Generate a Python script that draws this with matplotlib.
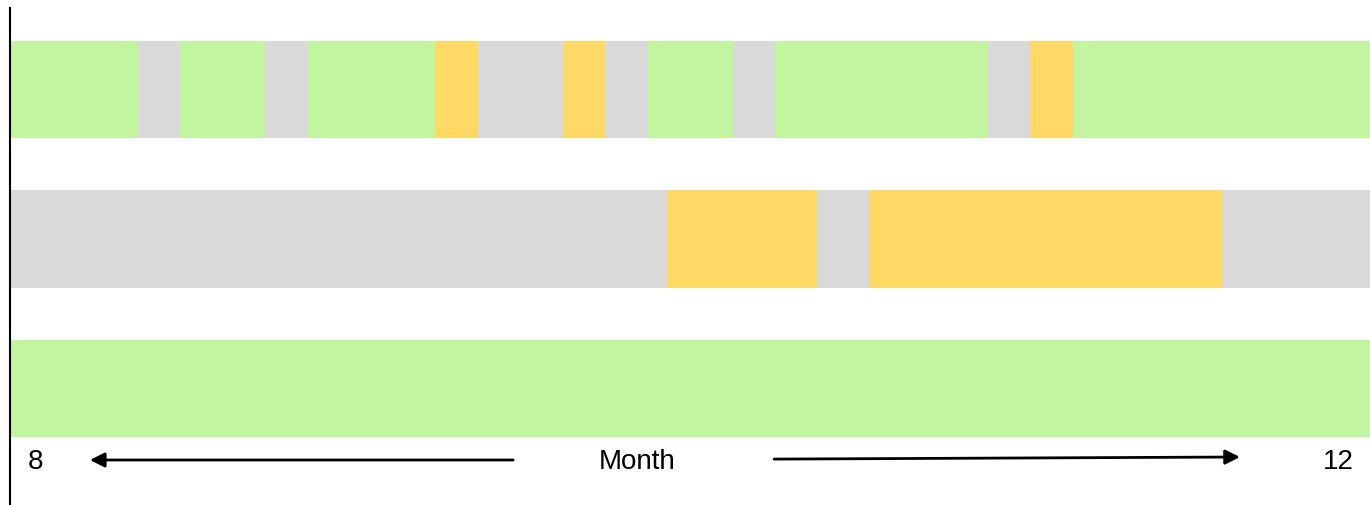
import matplotlib
matplotlib.use("Agg")
import matplotlib.pyplot as plt
import numpy as np

plt.rcParams['font.family'] = ['Liberation Sans', 'DejaVu Sans']

# Data: segment durations (units along the month axis) and status per segment
row1_durations = [3, 1, 2, 1, 3, 1, 2, 1, 1, 2, 1, 5, 1, 1, 7]
row1_status = ['ok', 'idle', 'ok', 'idle', 'ok', 'warn', 'idle', 'warn',
               'idle', 'ok', 'idle', 'ok', 'idle', 'warn', 'ok']
row2_durations = [15.47, 3.52, 1.21, 8.32, 3.48]
row2_status = ['idle', 'warn', 'idle', 'warn', 'idle']
row3_durations = [32]
row3_status = ['ok']

rows_durations = [row1_durations, row2_durations, row3_durations]
rows_status = [row1_status, row2_status, row3_status]

status_colors = {'ok': '#C3F5A0', 'idle': '#D9D9D9', 'warn': '#FFD966'}

month_start_label = '8'
month_end_label = '12'
axis_title = 'Month'

W, H = 1370, 505
fig = plt.figure(figsize=(W / 100, H / 100), dpi=100)
ax = fig.add_axes([10 / W, 0, 1360 / W, 497 / H])

for i, (durs, stats) in enumerate(zip(rows_durations, rows_status)):
    lefts = np.concatenate([[0], np.cumsum(durs)[:-1]])
    ax.barh([i] * len(durs), durs, left=lefts, height=0.65,
            color=[status_colors[s] for s in stats], linewidth=0)

ax.set_xlim(0, 32)
ax.set_ylim(2.779, -0.545)
for s in ['top', 'right', 'bottom']:
    ax.spines[s].set_visible(False)
ax.spines['left'].set_linewidth(1.5)
ax.set_xticks([])
ax.set_yticks([])

ty = 2.49
ax.text(0.59, ty, month_start_label, fontsize=20, ha='center', va='center')
ax.text(14.75, ty, axis_title, fontsize=20, ha='center', va='center')
ax.text(31.25, ty, month_end_label, fontsize=20, ha='center', va='center')

ap = dict(arrowstyle='-|>', lw=2, color='black', mutation_scale=22,
          shrinkA=0, shrinkB=0)
ax.annotate('', xy=(1.88, 2.478), xytext=(11.84, 2.478), arrowprops=ap)
ax.annotate('', xy=(28.94, 2.458), xytext=(17.98, 2.472), arrowprops=ap)

fig.savefig('out.png', dpi=100)
